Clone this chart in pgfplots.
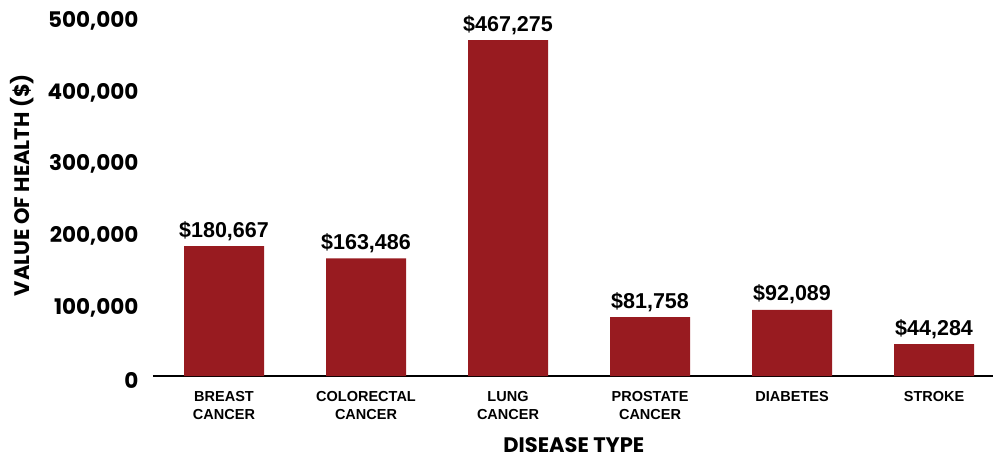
\documentclass[border=0pt]{standalone}
\usepackage{pgfplots}
\pgfplotsset{compat=1.18}
\usepackage{fontspec}
\setmainfont{Liberation Sans}
\newfontfamily\pop{Poppins}
\definecolor{barred}{RGB}{152,27,32}
\begin{document}
\begin{tikzpicture}
\useasboundingbox (0,0) rectangle (993pt,461pt);
\begin{axis}[
  at={(153pt,85pt)}, anchor=south west,
  scale only axis, width=840pt, height=359.5pt,
  xmin=-0.5, xmax=5.415, ymin=0, ymax=500000,
  ybar, bar width=80pt,
  axis lines*=left,
  y axis line style={draw=none},
  x axis line style={line width=1.3pt, -},
  tick style={draw=none},
  xtick={0,...,5},
  xticklabels={{BREAST\\CANCER},{COLORECTAL\\CANCER},{LUNG\\CANCER},{PROSTATE\\CANCER},{DIABETES},{STROKE}},
  xticklabel style={align=center, anchor=north, font=\fontsize{14.5}{18}\selectfont\bfseries, yshift=-8pt},
  ytick={0,100000,...,500000},
  scaled y ticks=false,
  /pgf/number format/assume math mode=true,
  yticklabel={\pgfmathprintnumber[fixed,precision=0,1000 sep={,}]{\tick}},
  yticklabel style={anchor=east, font=\pop\fontsize{21.5}{24}\selectfont\bfseries, xshift=-11pt, yshift=-4pt},
  ylabel={VALUE OF HEALTH (\$)},
  ylabel style={at={(axis description cs:-0.156,0.531)}, anchor=center, rotate=0, font=\pop\fontsize{21}{24}\selectfont\bfseries},
  xlabel={DISEASE TYPE},
  xlabel style={at={(axis description cs:0.501,-0.2125)}, anchor=base, inner sep=0pt, font=\pop\fontsize{21}{24}\selectfont\bfseries},
  point meta=explicit symbolic,
  nodes near coords,
  nodes near coords style={font=\fontsize{21.5}{24}\selectfont\bfseries, anchor=south, yshift=2pt},
]
\addplot[fill=barred, draw=none] coordinates {
  (0,180667) [\$180,667]
  (1,163486) [\$163,486]
  (2,467275) [\$467,275]
  (3,81758) [\$81,758]
  (4,92089) [\$92,089]
  (5,44284) [\$44,284]
};
\end{axis}
\end{tikzpicture}
\end{document}
